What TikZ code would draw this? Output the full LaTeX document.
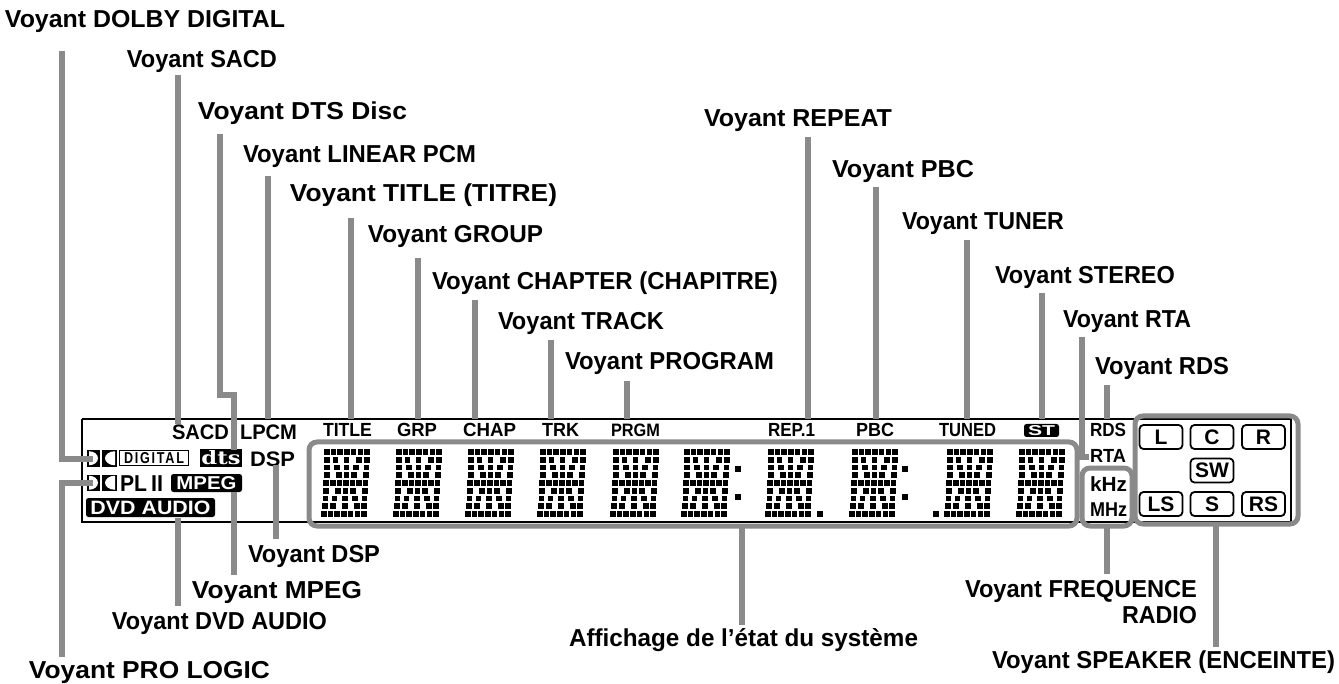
\documentclass[tikz,border=0pt]{standalone}
\usepackage{fontspec}
\setmainfont{Liberation Sans}[Ligatures=TeX]
\newfontfamily\serifdts{DejaVu Serif}
\definecolor{leader}{HTML}{8A8A8A}
\tikzset{
  x=1pt,y=-1pt,
  leaderline/.style={draw=leader,line width=5.5pt,line cap=butt,line join=miter},
  leaderbox/.style={draw=leader,line width=5pt,rounded corners=8pt},
  lab/.style={inner sep=0pt,outer sep=0pt,font=\bfseries,anchor=base},
  spk/.style={draw=black,line width=1.8pt,rounded corners=4pt,inner sep=0pt,outer sep=0pt,anchor=center,minimum width=43pt,minimum height=24pt,font=\bfseries\fontsize{21}{21}\selectfont},
  blackpill/.style={fill=black,rounded corners=2.5pt},
  cell/.style={fill=black,draw=none},
}
% label: name, left x, right x, baseline y, font size, text
\newcommand{\lbl}[6]{\node[lab] (#1) at ({(#2+#3)/2},#4) {\fontsize{#5}{#5}\selectfont\resizebox{\dimexpr #3pt-#2pt\relax}{\height}{#6}};}
% large outside label: y is the baseline
\newcommand{\olbl}[5]{\lbl{#1}{#2}{#3}{#4}{24.5}{#5}}
% dot matrix digit
\newcommand{\dmdigit}[1]{%
  \begin{scope}[shift={(#1,449)}]
  \foreach \r/\cs in {0/{1,7.7,14.4,21.1,27.8,34.5,41.2},
                      1/{1,9.5,20.5,33,41},
                      2/{1,11,20.5,30,40.5},
                      3/{1,13,20.5,28,40},
                      4/{0,7,13.5,20,26.5,33,39.5},
                      5/{0,12,19.5,27,39},
                      6/{-0.5,8.5,19,29,38.5},
                      7/{-1,7,19,31,38},
                      8/{-2,4.7,11.4,18.1,24.8,31.5,38.2}}{
    \foreach \c in \cs {
      \fill[cell] ({\c},{\r*7.75}) rectangle ++(5.5,5.9);
    }
  }
  \end{scope}}
\begin{document}
\begin{tikzpicture}
\useasboundingbox (0,0) rectangle (1339,684);
% display frame
\draw[black,line width=2.4pt] (82,419) -- (1291,419) (82,419) -- (82,522) -- (1291,522) (1291,419) -- (1291,522);
% inner status texts
\lbl{tSACD}{172}{229}{439}{21}{SACD}
\lbl{tLPCM}{240}{297}{439}{21}{LPCM}
\lbl{tDSP}{250}{295}{466}{21}{DSP}
\lbl{tTITLE}{323}{372}{437}{19}{TITLE}
\lbl{tGRP}{397}{437}{437}{19}{GRP}
\lbl{tCHAP}{463}{516}{437}{19}{CHAP}
\lbl{tTRK}{542}{579}{437}{19}{TRK}
\lbl{tPRGM}{611}{660}{437}{18}{PRGM}
\lbl{tREP}{768}{815}{437}{19}{REP.1}
\lbl{tPBC}{856}{894}{437}{19}{PBC}
\lbl{tTUNED}{939}{996}{437}{19}{TUNED}
\lbl{tRDS}{1090}{1126}{437}{19}{RDS}
\lbl{tRTA}{1090}{1126}{462}{19}{RTA}
\lbl{tKHZ}{1090}{1127}{491}{20.5}{kHz}
\lbl{tMHZ}{1090}{1127}{516}{20}{MHz}
% ST
\fill[blackpill] (1024,424) rectangle (1059,437);
\node[lab,anchor=center,text=white] (tST) at (1041.5,430.5) {\resizebox{27pt}{10pt}{ST}};
% Dolby marks
\foreach \yy in {450,474.5}{
  \fill[black] (87,\yy) rectangle (100,\yy+16.5);
  \fill[black] (102,\yy) rectangle (117,\yy+16.5);
  \fill[white] (89,\yy+1.25) arc[start angle=-90,end angle=90,x radius=9,y radius=7] -- cycle;
  \fill[white] (115,\yy+1.25) arc[start angle=270,end angle=90,x radius=10,y radius=7] -- cycle;
}
% DIGITAL
\node[draw=black,line width=1.8pt,fill=white,minimum width=69pt,minimum height=15pt,inner sep=0pt,anchor=center] (tDIG) at (154,458) {\resizebox{60pt}{11pt}{\bfseries\addfontfeatures{LetterSpace=14}DIGITAL}};
% dts
\node[fill=black,text=white,minimum width=42pt,minimum height=17pt,inner sep=0pt,anchor=center] (tDTS) at (221,458) {\resizebox{39pt}{14pt}{\serifdts\bfseries dts}};
% PL II
\lbl{tPL}{120}{147}{491}{23}{PL}
\lbl{tII}{151}{163}{491}{23}{II}
% MPEG
\node[blackpill,text=white,minimum width=71pt,minimum height=18pt,inner sep=0pt,anchor=center] (tMPEG) at (206.5,483) {\resizebox{60pt}{13pt}{\bfseries MPEG}};
% DVD AUDIO
\node[blackpill,text=white,minimum width=129pt,minimum height=19pt,inner sep=0pt,anchor=center] (tDVD) at (150.5,507.5) {\resizebox{120pt}{13.5pt}{\bfseries DVD AUDIO}};
% digits
\foreach \dx in {323,395,467,539,612,683,767,851,946,1018}{\dmdigit{\dx}}
\foreach \px/\py in {735/466,735/494,902/466,902/494,817/511,933/511}{\fill[cell] (\px,\py) rectangle ++(6,6);}
% speakers
\node[spk] (sL) at (1161,437) {L};
\node[spk] (sC) at (1212,437) {C};
\node[spk] (sR) at (1263.5,437) {R};
\node[spk] (sSW) at (1212,470.5) {SW};
\node[spk] (sLS) at (1161,504) {LS};
\node[spk] (sS) at (1212,504) {S};
\node[spk] (sRS) at (1263.5,504) {RS};
% grey boxes
\draw[leaderbox] (309,442) rectangle (1077,526);
\draw[leaderbox] (1082,468) rectangle (1132,526);
\draw[leaderbox] (1135,416) rectangle (1298,524);
\coordinate (bMain) at (742,526);
\coordinate (bFreq) at (1107,526);
\coordinate (bSpk) at (1216,524);
% outside labels
\olbl{lDOLBY}{5}{285}{28}{Voyant DOLBY DIGITAL}
\olbl{lSACD}{127}{277}{68}{Voyant SACD}
\olbl{lDTS}{198}{407}{120}{Voyant DTS Disc}
\olbl{lLPCM}{243}{476}{163}{Voyant LINEAR PCM}
\olbl{lTITLE}{290}{557}{202}{Voyant TITLE (TITRE)}
\olbl{lGROUP}{368}{543}{243}{Voyant GROUP}
\olbl{lCHAP}{432}{778}{290}{Voyant CHAPTER (CHAPITRE)}
\olbl{lTRACK}{498}{664}{330}{Voyant TRACK}
\olbl{lPROG}{565}{774}{370}{Voyant PROGRAM}
\olbl{lREP}{704}{892}{127}{Voyant REPEAT}
\olbl{lPBC}{832}{974}{178}{Voyant PBC}
\olbl{lTUNER}{902}{1064}{230}{Voyant TUNER}
\olbl{lSTEREO}{995}{1175}{284}{Voyant STEREO}
\olbl{lRTA}{1063}{1191}{328}{Voyant RTA}
\olbl{lRDS}{1095}{1229}{375}{Voyant RDS}
\olbl{lDSP}{248}{380}{562}{Voyant DSP}
\olbl{lMPEG}{192}{362}{598}{Voyant MPEG}
\olbl{lDVD}{112}{327}{629}{Voyant DVD AUDIO}
\olbl{lPRO}{29}{270}{678}{Voyant PRO LOGIC}
\olbl{lSTATE}{569}{918}{646}{Affichage de l’état du système}
\olbl{lFREQa}{965}{1197}{597}{Voyant FREQUENCE}
\olbl{lFREQb}{1122}{1197}{623}{RADIO}
\olbl{lSPK}{992}{1335}{668}{Voyant SPEAKER (ENCEINTE)}
% leaders
\draw[leaderline] (62,51) |- (93,459);
\draw[leaderline] (178,75) -- (178,424);
\draw[leaderline] (220,134) |- (234,395) -- (234,450);
\draw[leaderline] (268,176) -- (268,419);
\draw[leaderline] (351,218) -- (351,419);
\draw[leaderline] (418,258) -- (418,419);
\draw[leaderline] (475,300) -- (475,419);
\draw[leaderline] (551,340) -- (551,419);
\draw[leaderline] (627,381) -- (627,419);
\draw[leaderline] (808,137) -- (808,419);
\draw[leaderline] (876,187) -- (876,419);
\draw[leaderline] (967,240) -- (967,419);
\draw[leaderline] (1042,293) -- (1042,419);
\draw[leaderline] (1082,337) |- (1089,457);
\draw[leaderline] (1107,385) -- (1107,419);
\draw[leaderline] (276,465) -- (276,539);
\draw[leaderline] (234,492) -- (234,575);
\draw[leaderline] (178,518) -- (178,606);
\draw[leaderline] (93,483) -| (62,657);
\draw[leaderline] (bMain) -- (742,625);
\draw[leaderline] (bFreq) -- (1107,574);
\draw[leaderline] (bSpk) -- (1216,647);
\end{tikzpicture}
\end{document}
